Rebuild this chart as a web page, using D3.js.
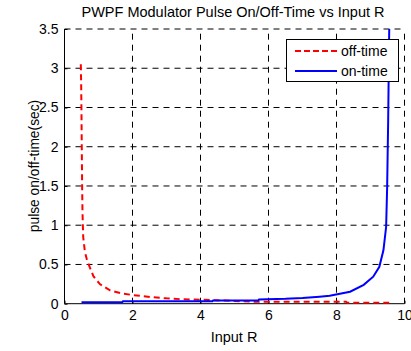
<!DOCTYPE html>
<html><head><meta charset="utf-8">
<script src="https://cdn.jsdelivr.net/npm/d3@7"></script>
<style>body{margin:0;background:#fff}svg{display:block}text{font-family:"Liberation Sans",Arial,sans-serif}</style>
</head><body><svg id="c" width="411" height="351"></svg>
<script>
const title = "PWPF Modulator Pulse On/Off-Time vs Input R";
const xLabel = "Input R";
const yLabel = "pulse on/off-time(sec)";
const xTicks = [0, 2, 4, 6, 8, 10];
const yTicks = [0, 0.5, 1, 1.5, 2, 2.5, 3, 3.5];
const seriesNames = ["off-time", "on-time"];
const offR = [0.48,0.49,0.50,0.51,0.52,0.53,0.55,0.60,0.66,0.73,0.85,1.04,1.34,1.68,2.02,2.51,3.0,3.4,4.0,4.4,5.6,6.0,7.0,8.0,8.28,8.32,9.55];
const offT = [3.05,2.8,2.4,1.9,1.45,1.15,0.85,0.66,0.56,0.48,0.35,0.25,0.17,0.13,0.11,0.085,0.068,0.058,0.05,0.045,0.025,0.025,0.025,0.025,0.025,0.012,0.012];
const onR = [0.5,1.7,1.72,4.35,4.37,5.7,5.72,6.5,7.0,7.5,7.8,8.4,8.8,9.08,9.26,9.38,9.46,9.49,9.52,9.55,9.57];
const onT = [0.02,0.02,0.03,0.03,0.042,0.042,0.055,0.062,0.072,0.088,0.1,0.153,0.24,0.344,0.47,0.68,0.98,1.49,2.34,3.48,3.7];

const svg = d3.select("#c");
const L = 64.5, R = 404.5, T = 29, B = 303.7;
const x = d3.scaleLinear().domain([0, 10]).range([L, R]);
const y = d3.scaleLinear().domain([0, 3.5]).range([B, T]);

svg.append("defs").append("clipPath").attr("id","clip").append("rect")
  .attr("x", L).attr("y", T).attr("width", R - L).attr("height", B - T);

// grid
const g = svg.append("g");
g.selectAll(".gx").data(xTicks.filter(d => d > 0)).enter().append("line")
  .attr("x1", d => x(d)).attr("x2", d => x(d)).attr("y1", B).attr("y2", T)
  .attr("stroke", "#000").attr("stroke-width", 1).attr("stroke-dasharray", "6,5");
g.selectAll(".gy").data(yTicks.filter(d => d > 0)).enter().append("line")
  .attr("y1", d => y(d)).attr("y2", d => y(d)).attr("x1", L).attr("x2", R)
  .attr("stroke", "#000").attr("stroke-width", 1).attr("stroke-dasharray", "6,5");

// axes
const xAxis = d3.axisBottom(x).tickValues(xTicks).tickSize(-3).tickPadding(6).tickFormat(d3.format("d"));
const yAxis = d3.axisLeft(y).tickValues(yTicks).tickSize(-3).tickPadding(6).tickFormat(d => d);
const gx = svg.append("g").attr("transform", `translate(0,${B})`).call(xAxis);
const gy = svg.append("g").attr("transform", `translate(${L},0)`).call(yAxis);
[gx, gy].forEach(a => {
  a.select(".domain").attr("stroke", "#000").attr("stroke-width", 1);
  a.selectAll("text").attr("font-size", 14).attr("fill", "#000");
  a.selectAll("line").attr("stroke", "#000");
});
gy.select(".domain").attr("d", `M0,${B}V${T}`);
gx.select(".domain").attr("d", `M${L},0H${R}`);

// lines
const line = d3.line().x(d => x(d[0])).y(d => y(d[1]));
const offData = offR.map((r, i) => [r, offT[i]]);
const onData = onR.map((r, i) => [r, onT[i]]);
const lines = svg.append("g").attr("clip-path", "url(#clip)");
lines.append("path").datum(offData).attr("d", line).attr("fill", "none")
  .attr("stroke", "#ff0000").attr("stroke-width", 2).attr("stroke-dasharray", "6,4");
lines.append("path").datum(onData).attr("d", line).attr("fill", "none")
  .attr("stroke", "#0000ff").attr("stroke-width", 2);

// title & labels
svg.append("text").attr("x", 233).attr("y", 17).attr("text-anchor", "middle")
  .attr("font-size", 14.5).text(title);
svg.append("text").attr("x", 234).attr("y", 342).attr("text-anchor", "middle")
  .attr("font-size", 14.5).text(xLabel);
svg.append("text").attr("transform", "translate(39,166) rotate(-90)").attr("text-anchor", "middle")
  .attr("font-size", 13.8).text(yLabel);

// legend
const lg = svg.append("g");
lg.append("rect").attr("x", 286.5).attr("y", 39.5).attr("width", 112).attr("height", 42)
  .attr("fill", "#fff").attr("stroke", "#000").attr("stroke-width", 1);
const colors = ["#ff0000", "#0000ff"];
const dashes = ["6,3", null];
seriesNames.forEach((n, i) => {
  const yy = 51 + i * 20;
  lg.append("line").attr("x1", 295).attr("x2", 337).attr("y1", yy).attr("y2", yy)
    .attr("stroke", colors[i]).attr("stroke-width", 2).attr("stroke-dasharray", dashes[i]);
  lg.append("text").attr("x", 341).attr("y", yy + 5).attr("font-size", 14).text(n);
});
</script></body></html>
